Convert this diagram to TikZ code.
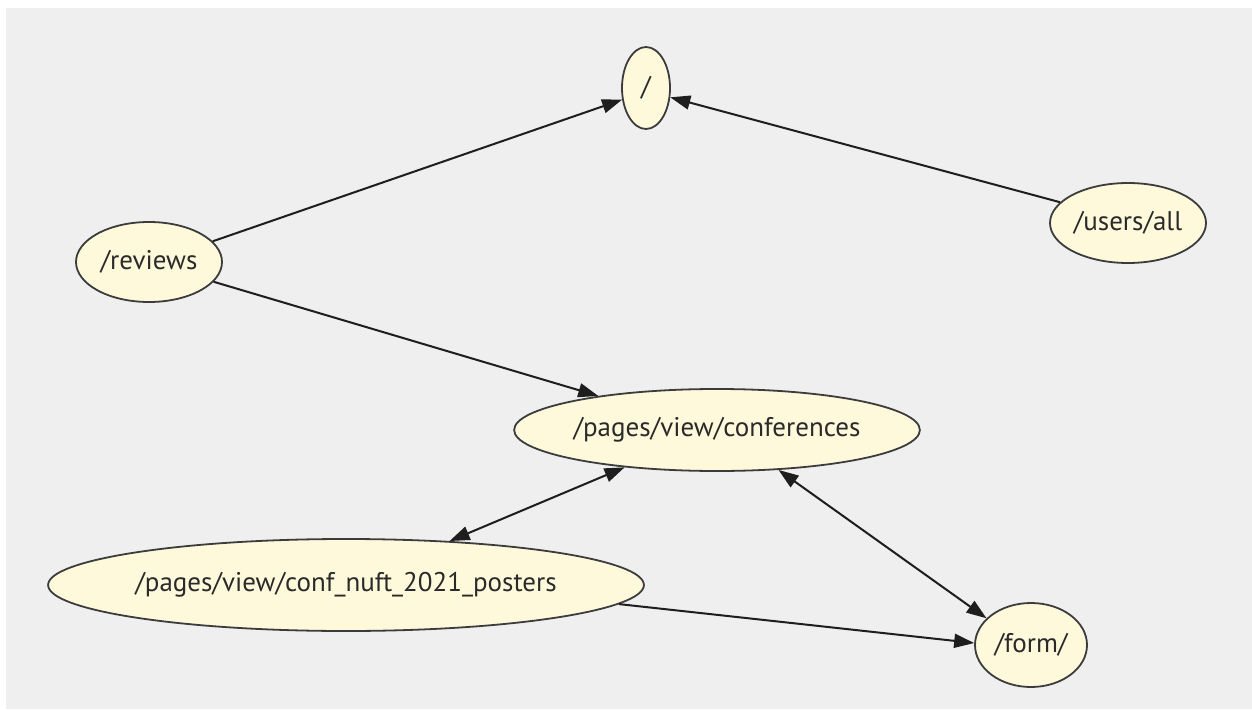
\documentclass[tikz,border=0pt]{standalone}
\usepackage{fontspec}
\setmainfont{PT Sans}
\usetikzlibrary{arrows.meta,shapes.geometric}
\definecolor{bggray}{HTML}{EFEFEF}
\definecolor{nodefill}{HTML}{FFF9DC}
\definecolor{edgecol}{HTML}{1E1E1E}
\definecolor{bordcol}{HTML}{3C3C3C}
\definecolor{txtcol}{HTML}{2A2A2A}
\tikzset{
  page/.style={ellipse, draw=bordcol, line width=1.8pt, fill=nodefill, inner sep=0pt,
    text=txtcol, font=\fontsize{27}{31}\selectfont},
  tipx/.tip={Triangle[length=20pt,width=14pt]},
  link/.style={draw=edgecol, line width=2pt, -tipx},
  blink/.style={draw=edgecol, line width=2pt, tipx-tipx}
}
\begin{document}
\begin{tikzpicture}[x=1pt,y=-1pt]
\useasboundingbox (0,0) rectangle (1252,711);
\fill[bggray] (6,8) rectangle (1252,709);
\node[page, minimum width=48pt, minimum height=82pt] (root) at (646,88) {/};
\node[page, minimum width=146pt, minimum height=80pt] (reviews) at (149,262) {/reviews};
\node[page, minimum width=156pt, minimum height=80pt] (users) at (1128,223) {/users/all};
\node[page, minimum width=400pt, minimum height=82pt] (conf) at (717,430) {/pages/view/conferences};
\node[page, minimum width=590pt, minimum height=92pt] (nuft) at (346,585) {/pages/view/conf\_nuft\_2021\_posters};
\node[page, minimum width=112pt, minimum height=84pt] (form) at (1031,645) {/form/};
\draw[link] (reviews.18) -- (root.206);
\draw[link] (users.163) -- (root.-21);
\draw[link] (reviews.-17) -- (conf.164);
\draw[blink] (conf.202) -- (nuft.23);
\draw[blink] (conf.-33) -- (form.149);
\draw[link] (nuft.-4) -- (form.178);
\end{tikzpicture}
\end{document}
